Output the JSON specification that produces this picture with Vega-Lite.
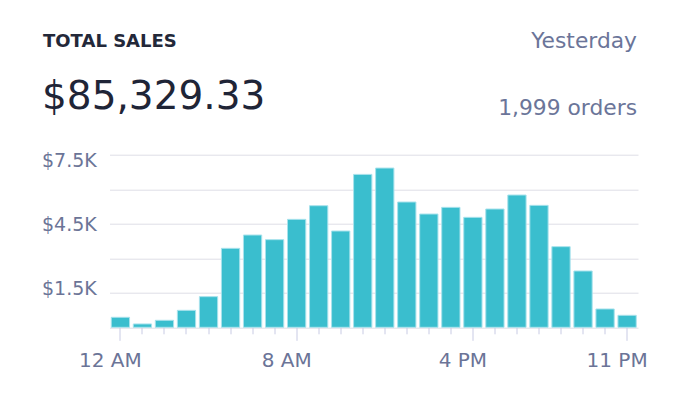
{
  "$schema": "https://vega.github.io/schema/vega-lite/v6.json",
  "width": 528.5,
  "height": 172.6,
  "autosize": {"type": "none"},
  "padding": {"left": 109.5, "top": 154.7, "right": 48, "bottom": 69.7},
  "background": "#ffffff",
  "config": {"view": {"stroke": null}, "font": "DejaVu Sans"},
  "data": {
    "values": [
      {"hour": 0, "sales": 434},
      {"hour": 1, "sales": 145},
      {"hour": 2, "sales": 304},
      {"hour": 3, "sales": 738},
      {"hour": 4, "sales": 1332},
      {"hour": 5, "sales": 3431},
      {"hour": 6, "sales": 4010},
      {"hour": 7, "sales": 3808},
      {"hour": 8, "sales": 4691},
      {"hour": 9, "sales": 5284},
      {"hour": 10, "sales": 4184},
      {"hour": 11, "sales": 6645},
      {"hour": 12, "sales": 6920},
      {"hour": 13, "sales": 5444},
      {"hour": 14, "sales": 4922},
      {"hour": 15, "sales": 5212},
      {"hour": 16, "sales": 4778},
      {"hour": 17, "sales": 5140},
      {"hour": 18, "sales": 5748},
      {"hour": 19, "sales": 5299},
      {"hour": 20, "sales": 3504},
      {"hour": 21, "sales": 2447},
      {"hour": 22, "sales": 796},
      {"hour": 23, "sales": 521}
    ]
  },
  "encoding": {
    "x": {
      "field": "hour",
      "type": "ordinal",
      "scale": {"paddingInner": 0.17, "paddingOuter": 0.08},
      "axis": {
        "title": "$85,329.33",
        "titleX": -68,
        "titleY": -219,
        "titleAlign": "left",
        "titleBaseline": "alphabetic",
        "titleFont": "DejaVu Sans",
        "titleFontSize": 39,
        "titleFontWeight": "normal",
        "titleColor": "#1f2537",
        "labelExpr": "datum.value == 0 ? '12 AM' : datum.value == 8 ? '8 AM' : datum.value == 16 ? '4 PM' : datum.value == 23 ? '11 PM' : ''",
        "labelAngle": 0,
        "labelOffset": -10,
        "labelPadding": 10,
        "labelBaseline": "top",
        "labelFont": "DejaVu Sans",
        "labelFontSize": 20,
        "labelColor": "#6b7497",
        "tickSize": {"condition": {"test": "datum.value == 0 || datum.value == 8 || datum.value == 16 || datum.value == 23", "value": 13}, "value": 6.5},
        "tickColor": "#c8cbe4",
        "tickWidth": 1,
        "domain": false,
        "grid": false
      }
    }
  },
  "resolve": {"axis": {"y": "independent"}},
  "layer": [
    {
      "mark": {"type": "bar", "color": "#3abece", "stroke": "#a8e2ec", "strokeWidth": 1},
      "encoding": {
        "y": {
          "field": "sales",
          "type": "quantitative",
          "scale": {"domain": [0, 7500], "nice": false},
          "axis": {
            "values": [0, 1500, 3000, 4500, 6000, 7500],
            "labelExpr": "datum.value % 3000 == 1500 ? '$' + format(datum.value / 1000, '.1f') + 'K' : ''",
            "grid": true,
            "gridColor": "#dedee6",
            "gridWidth": 1,
            "ticks": false,
            "tickSize": 0,
            "domain": false,
            "labelAlign": "left",
            "labelPadding": 68,
            "labelFont": "DejaVu Sans",
            "labelFontSize": 19,
            "labelColor": "#6b7497",
            "labelBaseline": "alphabetic",
            "labelOffset": {"condition": [{"test": "datum.value == 7500", "value": 11.3}, {"test": "datum.value == 4500", "value": 6.7}], "value": 1.7},
            "title": "TOTAL SALES",
            "titleX": -67,
            "titleY": -108,
            "titleAngle": 0,
            "titleAlign": "left",
            "titleBaseline": "alphabetic",
            "titleFont": "DejaVu Sans",
            "titleFontSize": 18,
            "titleFontWeight": "bold",
            "titleColor": "#232839"
          }
        }
      }
    },
    {
      "mark": {"type": "bar", "opacity": 0},
      "encoding": {
        "y": {
          "field": "sales",
          "type": "quantitative",
          "scale": {"domain": [0, 7500], "nice": false},
          "axis": {
            "orient": "right",
            "labels": false,
            "ticks": false,
            "domain": false,
            "grid": false,
            "title": ["Yesterday", "1,999 orders"],
            "titleX": -1.5,
            "titleY": -107,
            "titleAngle": 0,
            "titleAlign": "right",
            "titleBaseline": "alphabetic",
            "titleLineHeight": 66.6,
            "titleFont": "DejaVu Sans",
            "titleFontSize": 21.8,
            "titleFontWeight": "normal",
            "titleColor": "#6b7599"
          }
        }
      }
    }
  ]
}
